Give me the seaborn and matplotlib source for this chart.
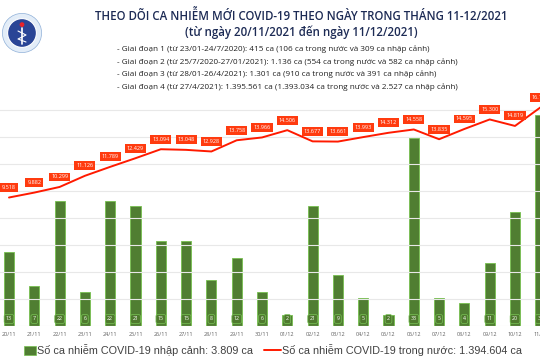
import matplotlib
matplotlib.use("Agg")
import matplotlib.pyplot as plt
import matplotlib.patches as mpatches
import numpy as np
import pandas as pd
import seaborn as sns

dates = ["20/11", "21/11", "22/11", "23/11", "24/11", "25/11", "26/11", "27/11",
         "28/11", "29/11", "30/11", "01/12", "02/12", "03/12", "04/12", "05/12",
         "06/12", "07/12", "08/12", "09/12", "10/12", "11/12"]
imported = [13, 7, 22, 6, 22, 21, 15, 15, 8, 12, 6, 2, 21, 9, 5, 2, 33, 5, 4, 11, 20, 37]
domestic = [9518, 9882, 10299, 11126, 11789, 12429, 13094, 13048, 12928, 13758, 13966,
            14506, 13677, 13661, 13993, 14312, 14558, 13835, 14595, 15300, 14819, 16185]

title = "THEO DÕI CA NHIỄM MỚI COVID-19 THEO NGÀY TRONG THÁNG 11-12/2021"
subtitle = "(từ ngày 20/11/2021 đến ngày 11/12/2021)"
bullets = [
    "- Giai đoạn 1 (từ 23/01-24/7/2020): 415 ca (106 ca trong nước và 309 ca nhập cảnh)",
    "- Giai đoạn 2 (từ 25/7/2020-27/01/2021): 1.136 ca (554 ca trong nước và 582 ca nhập cảnh)",
    "- Giai đoạn 3 (từ 28/01-26/4/2021): 1.301 ca (910 ca trong nước và 391 ca nhập cảnh)",
    "- Giai đoạn 4 (từ 27/4/2021): 1.395.561 ca (1.393.034 ca trong nước và 2.527 ca nhập cảnh)",
]
legend_bar = "Số ca nhiễm COVID-19 nhập cảnh: 3.809 ca"
legend_line = "Số ca nhiễm COVID-19 trong nước: 1.394.604 ca"

sns.set_theme(style="white")
plt.rcParams['font.family'] = ['Open Sans', 'DejaVu Sans']

W, H = 540, 360
fig = plt.figure(figsize=(5.4, 3.6), dpi=100)
fig.patch.set_facecolor("white")

# axes geometry (pixels)
cat_w = 25.3
x0 = 9 - cat_w / 2
ax_w = cat_w * len(dates)
base_y = 326
top_y = 83
ax = fig.add_axes([x0 / W, (H - base_y) / H, ax_w / W, (base_y - top_y) / H])
ax.set_facecolor("none")

df = pd.DataFrame({"date": dates, "imported": imported, "domestic": domestic})

sns.barplot(data=df, x="date", y="imported", ax=ax, color="#507e32",
            width=0.4, edgecolor="#76c04e", linewidth=0.6, saturation=1, zorder=3)
ax.set_ylim(0, (base_y - top_y) / 5.7)
ax.set_xlim(-0.5, len(dates) - 0.5)
ax.set_xlabel("")
ax.set_ylabel("")
ax.set_yticks([])
for s in ax.spines.values():
    s.set_visible(False)
ax.tick_params(axis="x", length=0, pad=4, labelsize=4, labelcolor="#606060")

for i, v in enumerate(imported):
    ax.annotate(str(v), xy=(i, 0), xytext=(0, 7), textcoords="offset pixels",
                ha="center", va="center", fontsize=3.8, color="white", zorder=5,
                bbox=dict(boxstyle="round,pad=0.35,rounding_size=0.3", fc="#4f7a2e",
                          ec="#79c356", lw=0.5))

ax2 = ax.twinx()
ax2.set_position(ax.get_position())
ax2.set_facecolor("none")
sns.lineplot(x=np.arange(len(dates)), y=domestic, ax=ax2, color="#ff1a00",
             linewidth=1.4, zorder=4)
ax2.set_ylim(0, 18000)
ax2.set_yticks([])
for s in ax2.spines.values():
    s.set_visible(False)
ax2.set_xlim(-0.5, len(dates) - 0.5)

# gridlines
for g in range(0, 16001, 2000):
    ax2.axhline(g, color="#e8e8e8", lw=0.8, zorder=0)
ax.set_zorder(1)
ax2.set_zorder(2)

for i, v in enumerate(domestic):
    lab = f"{v:,}".replace(",", ".")
    ax2.annotate(lab, xy=(i, v), xytext=(0, 10), textcoords="offset pixels",
                 ha="center", va="center", fontsize=4.0, color="white", zorder=6,
                 bbox=dict(boxstyle="square,pad=0.35", fc="#ff3b0f", ec="none"))

# header texts
fig.text(301 / W, 1 - 16 / H, title, ha="center", va="center", fontsize=8.3,
         fontweight="semibold", color="#1d2b55")
fig.text(301 / W, 1 - 32 / H, subtitle, ha="center", va="center", fontsize=8.3,
         fontweight="semibold", color="#1d2b55")
for k, b in enumerate(bullets):
    fig.text(117 / W, 1 - (49 + 12.8 * k) / H, b, ha="left", va="center",
             fontsize=5.85, color="#222222")

# logo
r = 20
logo_ax = fig.add_axes([(22 - r) / W, (H - 33 - r) / H, 2 * r / W, 2 * r / H])
logo_ax.set_xlim(-1, 1)
logo_ax.set_ylim(-1, 1)
logo_ax.axis("off")
logo_ax.add_patch(mpatches.Circle((0, 0), 0.98, fc="#e3edf8", ec="#8fb0d8", lw=0.5))
logo_ax.add_patch(mpatches.Circle((0, 0), 0.72, fc="#2a4596", ec="white", lw=0.8))
logo_ax.add_patch(mpatches.Circle((0, 0.42), 0.12, fc="#e8222a", ec="none"))
logo_ax.plot([0, 0], [-0.55, 0.25], color="white", lw=1.2)
logo_ax.plot([-0.2, 0.2, -0.2, 0.2], [0.1, -0.1, -0.3, -0.45], color="white", lw=0.8)

# legend
fig.patches.append(mpatches.Rectangle((24 / W, 1 - 355 / H), 12 / W, 9 / H,
                                      fc="#507e32", ec="#76c04e", lw=0.5,
                                      transform=fig.transFigure, figure=fig))
fig.text(37 / W, 1 - 350 / H, legend_bar, ha="left", va="center", fontsize=7.8,
         color="#404040", family=["Liberation Sans", "DejaVu Sans"])
fig.lines.append(plt.Line2D([264 / W, 281 / W], [1 - 350 / H, 1 - 350 / H],
                            color="#ff1a00", lw=1.4, transform=fig.transFigure))
fig.text(282 / W, 1 - 350 / H, legend_line, ha="left", va="center", fontsize=7.8,
         color="#404040", family=["Liberation Sans", "DejaVu Sans"])

fig.savefig("out.png", dpi=100, facecolor="white")
